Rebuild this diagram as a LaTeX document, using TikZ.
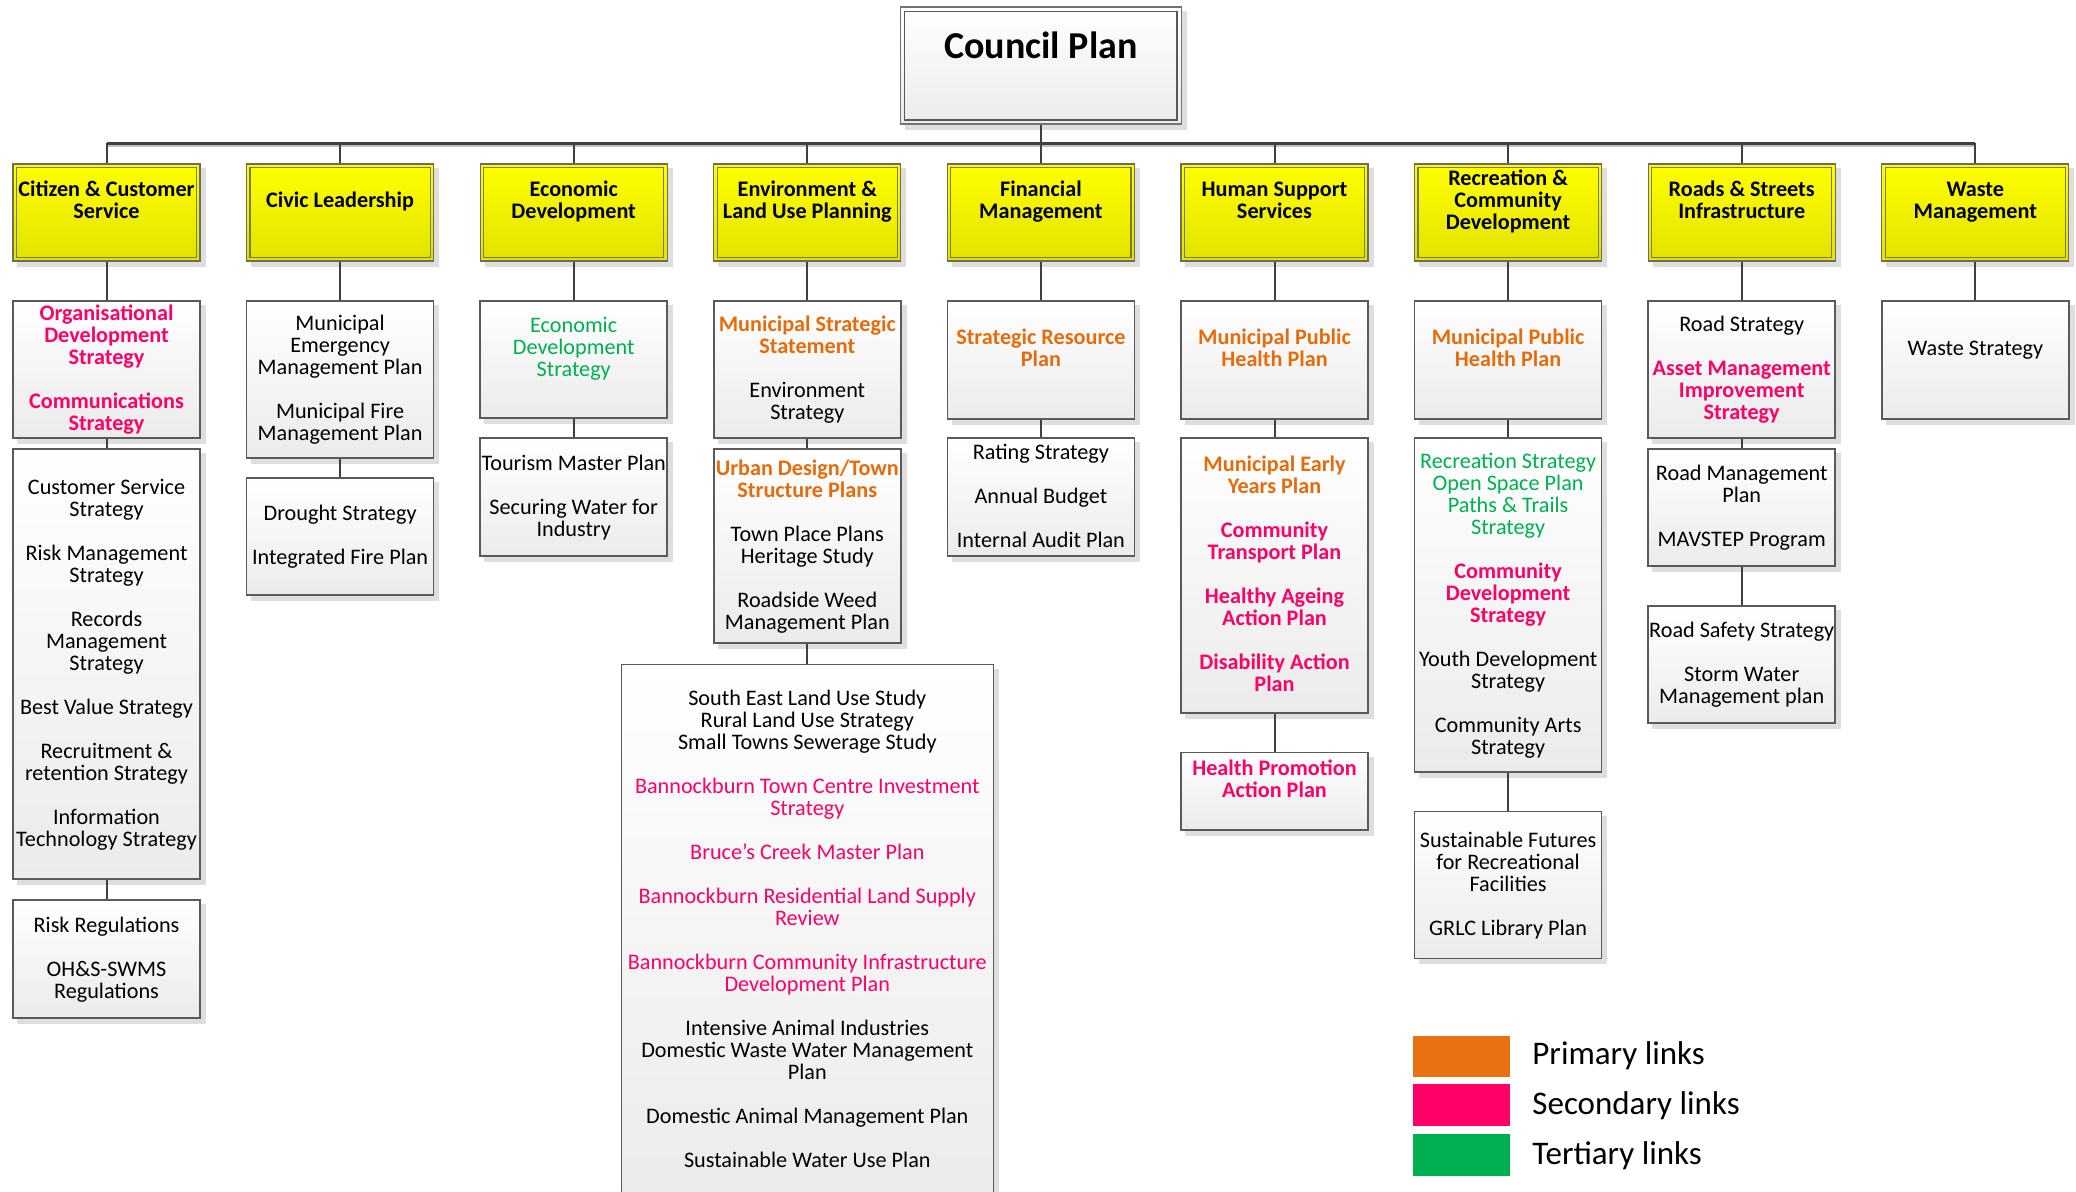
\documentclass[tikz,border=0pt]{standalone}
\usepackage{fontspec}
\setmainfont{Carlito}
\usetikzlibrary{backgrounds}
\definecolor{orntxt}{HTML}{E46C0A}
\definecolor{pnktxt}{HTML}{FF0066}
\definecolor{grntxt}{HTML}{00B050}
\definecolor{swor}{HTML}{E97112}
\definecolor{swpk}{HTML}{FF0066}
\definecolor{swgr}{HTML}{00B050}
\definecolor{connc}{HTML}{404040}
\definecolor{boxline}{HTML}{5A5A5A}
\definecolor{boxbot}{HTML}{EBEBEB}
\definecolor{shadowc}{HTML}{DEDEDE}
\definecolor{ytop}{HTML}{FFFF00}
\definecolor{ybot}{HTML}{E2E200}
\definecolor{ylline}{HTML}{6E6E5A}
\definecolor{yinner}{HTML}{7A7A30}
\newcommand\orn[1]{\textcolor{orntxt}{\textbf{#1}}}
\newcommand\pnkb[1]{\textcolor{pnktxt}{\textbf{#1}}}
\newcommand\pnk[1]{\textcolor{pnktxt}{#1}}
\newcommand\grn[1]{\textcolor{grntxt}{#1}}
\newcommand\skipl{\\[11pt]}
\newcommand\sv{\rule[-2.3pt]{0pt}{11pt}}
\begin{document}
\begin{tikzpicture}[x=0.5pt,y=-0.5pt,
  wbox/.style={draw=boxline, line width=0.75pt, top color=white, bottom color=boxbot,
    minimum width=93.5pt, inner sep=0pt, align=center, font=\fontsize{11.1}{11}\selectfont},
  ybox/.style={draw=ylline, line width=0.6pt, top color=ytop, bottom color=ybot,
    minimum width=93.5pt, minimum height=48.5pt, inner sep=0pt, align=center,
    font=\bfseries\fontsize{11.1}{11}\selectfont},
  conn/.style={draw=connc, line width=1pt},
  bus/.style={draw=connc, line width=1.5pt},
  yin/.style={draw=yinner, line width=0.6pt},
  swatch/.style={minimum width=48.5pt, minimum height=20.5pt, inner sep=0pt},
  legtxt/.style={anchor=west, inner sep=0pt, font=\fontsize{16.5}{18}\selectfont}]
\useasboundingbox (0,0) rectangle (2076,1191);

% Council plan
\node[draw=black!55, line width=0.75pt, top color=white, bottom color=boxbot,
  minimum width=140.5pt, minimum height=58.5pt, inner sep=0pt, align=center,
  font=\bfseries\fontsize{19}{16}\selectfont] (council) at (1040.9,65.5) {\strut Council Plan\\\strut};
\draw[draw=black!65, line width=0.75pt] ([shift={(5,-5)}]council.south west) rectangle ([shift={(-5,5)}]council.north east);

% Level 1
\node[ybox] (y1) at (106.5,212.5) {\sv Citizen \& Customer\\Service\\\sv};
\node[ybox] (y2) at (340.1,212.5) {\sv Civic Leadership\\\sv};
\node[ybox] (y3) at (573.7,212.5) {\sv Economic\\Development\\\sv};
\node[ybox] (y4) at (807.3,212.5) {\sv Environment \&\\Land Use Planning\\\sv};
\node[ybox] (y5) at (1040.9,212.5) {\sv Financial\\Management\\\sv};
\node[ybox] (y6) at (1274.5,212.5) {\sv Human Support\\Services\\\sv};
\node[ybox] (y7) at (1508.1,212.5) {\sv Recreation \&\\Community\\Development\\\sv};
\node[ybox] (y8) at (1741.7,212.5) {\sv Roads \& Streets\\Infrastructure\\\sv};
\node[ybox] (y9) at (1975.3,212.5) {\sv Waste\\Management\\\sv};
\foreach \i in {1,...,9}
  \draw[yin] ([shift={(4,-4)}]y\i.south west) rectangle ([shift={(-4,4)}]y\i.north east);

% Column 1
\node[wbox, minimum height=68.5pt] (c1a) at (106.5,369.5) {\sv\pnkb{Organisational}\\\pnkb{Development}\\\pnkb{Strategy}\skipl\pnkb{Communications}\\\pnkb{Strategy}\sv};
\node[wbox, minimum height=215pt] (c1b) at (106.5,664) {\sv Customer Service\\Strategy\skipl Risk Management\\Strategy\skipl Records\\Management\\Strategy\skipl Best Value Strategy\skipl Recruitment \&\\retention Strategy\skipl Information\\Technology Strategy\sv};
\node[wbox, minimum height=59pt] (c1c) at (106.5,959) {\sv Risk Regulations\skipl OH\&S-SWMS\\Regulations\sv};

% Column 2
\node[wbox, minimum height=78.5pt] (c2a) at (340.1,379.5) {\sv Municipal\\Emergency\\Management Plan\skipl Municipal Fire\\Management Plan\sv};
\node[wbox, minimum height=58.5pt] (c2b) at (340.1,536.5) {\sv Drought Strategy\skipl Integrated Fire Plan\sv};

% Column 3
\node[wbox, minimum height=58.5pt] (c3a) at (573.7,359.5) {\sv\grn{Economic}\\\grn{Development}\\\grn{Strategy}\\\sv};
\node[wbox, minimum height=59pt] (c3b) at (573.7,497) {\sv Tourism Master Plan\skipl Securing Water for\\Industry\sv};

% Column 4
\node[wbox, minimum height=68.5pt] (c4a) at (807.3,369.5) {\sv\orn{Municipal Strategic}\\\orn{Statement}\skipl Environment\\Strategy\sv};
\node[wbox, minimum height=97pt] (c4b) at (807.3,546) {\sv\orn{Urban Design/Town}\\\orn{Structure Plans}\skipl Town Place Plans\\Heritage Study\skipl Roadside Weed\\Management Plan\sv};
\node[wbox, minimum width=186pt, minimum height=265.25pt] (c4c) at (807.3,929.75) {\sv South East Land Use Study\\Rural Land Use Strategy\\Small Towns Sewerage Study\skipl\pnk{Bannockburn Town Centre Investment}\\\pnk{Strategy}\skipl\pnk{Bruce’s Creek Master Plan}\skipl\pnk{Bannockburn Residential Land Supply}\\\pnk{Review}\skipl\pnk{Bannockburn Community Infrastructure}\\\pnk{Development Plan}\skipl Intensive Animal Industries\\Domestic Waste Water Management\\Plan\skipl Domestic Animal Management Plan\skipl Sustainable Water Use Plan\sv};

% Column 5
\node[wbox, minimum height=59pt] (c5a) at (1040.9,360) {\sv\orn{Strategic Resource}\\\orn{Plan}\\\sv};
\node[wbox, minimum height=59pt] (c5b) at (1040.9,497) {\sv Rating Strategy\skipl Annual Budget\skipl Internal Audit Plan\sv};

% Column 6
\node[wbox, minimum height=59pt] (c6a) at (1274.5,360) {\sv\orn{Municipal Public}\\\orn{Health Plan}\\\sv};
\node[wbox, minimum height=137.5pt] (c6b) at (1274.5,575.5) {\sv\orn{Municipal Early}\\\orn{Years Plan}\skipl\pnkb{Community}\\\pnkb{Transport Plan}\skipl\pnkb{Healthy Ageing}\\\pnkb{Action Plan}\skipl\pnkb{Disability Action}\\\pnkb{Plan}\sv};
\node[wbox, minimum height=38.65pt] (c6c) at (1274.5,791.35) {\sv\pnkb{Health Promotion}\\\pnkb{Action Plan}\\\sv};

% Column 7
\node[wbox, minimum height=59pt] (c7a) at (1508.1,360) {\sv\orn{Municipal Public}\\\orn{Health Plan}\\\sv};
\node[wbox, minimum height=167pt] (c7b) at (1508.1,605) {\sv\grn{Recreation Strategy}\\\grn{Open Space Plan}\\\grn{Paths \& Trails}\\\grn{Strategy}\skipl\pnkb{Community}\\\pnkb{Development}\\\pnkb{Strategy}\skipl Youth Development\\Strategy\skipl Community Arts\\Strategy\sv};
\node[wbox, minimum height=73.5pt] (c7c) at (1508.1,885.2) {\sv Sustainable Futures\\for Recreational\\Facilities\skipl GRLC Library Plan\sv};

% Column 8
\node[wbox, minimum height=68.5pt] (c8a) at (1741.7,369.5) {\sv Road Strategy\skipl\pnkb{Asset Management}\\\pnkb{Improvement}\\\pnkb{Strategy}\sv};
\node[wbox, minimum height=58.5pt] (c8b) at (1741.7,507.5) {\sv Road Management\\Plan\skipl MAVSTEP Program\sv};
\node[wbox, minimum height=58.5pt] (c8c) at (1741.7,664.5) {\sv Road Safety Strategy\skipl Storm Water\\Management plan\sv};

% Column 9
\node[wbox, minimum height=59pt] (c9a) at (1975.3,360) {\sv Waste Strategy\\\sv};

% Connectors
\coordinate (busL) at (106.5,143);
\coordinate (busR) at (1975.3,143);
\draw[bus] (busL) -- (busR);
\draw[conn] (council.south) -- (council.south |- busL);
\foreach \i in {1,...,9}
  \draw[conn] (y\i.north) -- (y\i.north |- busL);
\draw[conn] (y1.south) -- (c1a.north);
\draw[conn] (c1a.south) -- (c1b.north);
\draw[conn] (c1b.south) -- (c1c.north);
\draw[conn] (y2.south) -- (c2a.north);
\draw[conn] (c2a.south) -- (c2b.north);
\draw[conn] (y3.south) -- (c3a.north);
\draw[conn] (c3a.south) -- (c3b.north);
\draw[conn] (y4.south) -- (c4a.north);
\draw[conn] (c4a.south) -- (c4b.north);
\draw[conn] (c4b.south) -- (c4c.north);
\draw[conn] (y5.south) -- (c5a.north);
\draw[conn] (c5a.south) -- (c5b.north);
\draw[conn] (y6.south) -- (c6a.north);
\draw[conn] (c6a.south) -- (c6b.north);
\draw[conn] (c6b.south) -- (c6c.north);
\draw[conn] (y7.south) -- (c7a.north);
\draw[conn] (c7a.south) -- (c7b.north);
\draw[conn] (c7b.south) -- (c7c.north);
\draw[conn] (y8.south) -- (c8a.north);
\draw[conn] (c8a.south) -- (c8b.north);
\draw[conn] (c8b.south) -- (c8c.north);
\draw[conn] (y9.south) -- (c9a.north);

% Legend
\node[swatch, fill=swor] (lg1) at (1461.5,1056) {};
\node[swatch, fill=swpk, minimum height=21pt] (lg2) at (1461.5,1105) {};
\node[swatch, fill=swgr, minimum height=21pt] (lg3) at (1461.5,1155) {};
\node[legtxt] (lt1) at (1532,1056) {Primary links};
\node[legtxt] (lt2) at (1532,1106) {Secondary links};
\node[legtxt] (lt3) at (1532,1156) {Tertiary links};

% Shadows
\begin{scope}[on background layer]
\foreach \n in {council,y1,y2,y3,y4,y5,y6,y7,y8,y9,c1a,c1b,c1c,c2a,c2b,c3a,c3b,c4a,c4b,c4c,c5a,c5b,c6a,c6b,c6c,c7a,c7b,c7c,c8a,c8b,c8c,c9a}
  \fill[shadowc] ([shift={(5,5)}]\n.north west) rectangle ([shift={(5,5)}]\n.south east);
\draw[draw=black!25, line width=1pt] ([yshift=-1.5pt]busL) -- ([yshift=-1.5pt]busR);
\end{scope}
\end{tikzpicture}
\end{document}
